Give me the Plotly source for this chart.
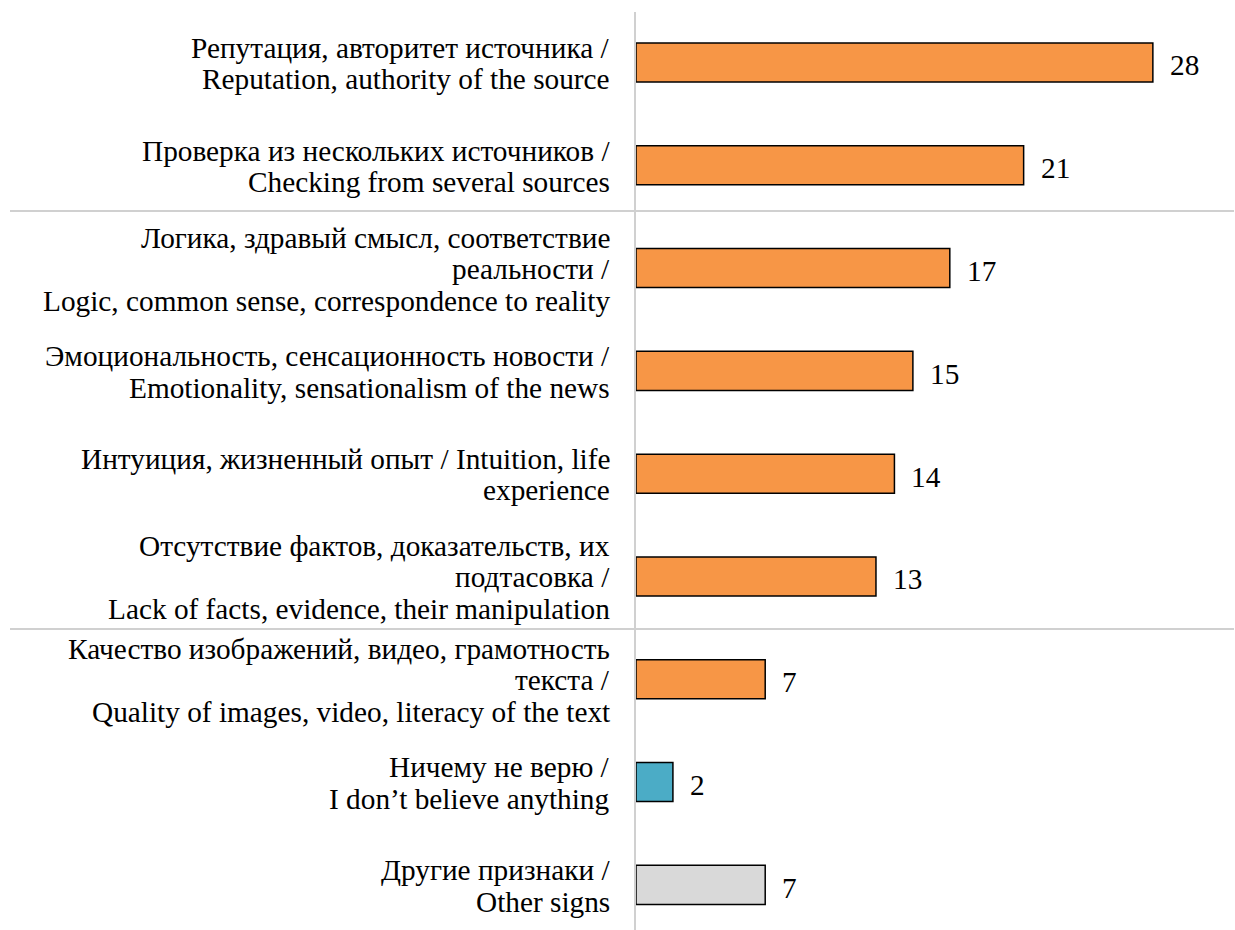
import plotly.graph_objects as go

categories = [
    "Репутация, авторитет источника /<br>Reputation, authority of the source",
    "Проверка из нескольких источников /<br>Checking from several sources",
    "Логика, здравый смысл, соответствие<br>реальности /<br>Logic, common sense, correspondence to reality",
    "Эмоциональность, сенсационность новости /<br>Emotionality, sensationalism of the news",
    "Интуиция, жизненный опыт / Intuition, life<br>experience",
    "Отсутствие фактов, доказательств, их<br>подтасовка /<br>Lack of facts, evidence, their manipulation",
    "Качество изображений, видео, грамотность<br>текста /<br>Quality of images, video, literacy of the text",
    "Ничему не верю /<br>I don’t believe anything",
    "Другие признаки /<br>Other signs",
]
values = [28, 21, 17, 15, 14, 13, 7, 2, 7]
colors = ["#F79646"] * 7 + ["#4BACC6", "#D9D9D9"]
separators_after = [1.445, 5.51]

FONT = "Times New Roman"
FS = 29.3
LINE = 31.5

pos = list(range(len(categories)))

fig = go.Figure()
fig.add_trace(go.Bar(
    x=values, y=pos, orientation="h",
    marker=dict(color=colors, line=dict(color="black", width=1.5)),
    width=0.38, hoverinfo="skip",
))

annotations = []
for i, (c, v) in enumerate(zip(categories, values)):
    lines = c.split("<br>")
    n = len(lines)
    for k, ln in enumerate(lines):
        annotations.append(dict(
            x=0, y=i, xref="paper", yref="y", text=ln, showarrow=False,
            xanchor="right", yanchor="middle", align="right", xshift=-24,
            yshift=-1 - (k - (n - 1) / 2) * LINE,
            font=dict(family=FONT, size=FS, color="black"),
        ))
    annotations.append(dict(
        x=v, y=i, xref="x", yref="y", text=str(v), showarrow=False,
        xanchor="left", yanchor="middle", xshift=15, yshift=-3,
        font=dict(family=FONT, size=FS, color="black"),
    ))

shapes = []
for s in separators_after:
    shapes.append(dict(
        type="line", xref="paper", yref="y",
        x0=(10 - 636) / 599, x1=(1234 - 636) / 599, y0=s, y1=s,
        line=dict(color="#D0D0D0", width=2), layer="below",
    ))

fig.update_layout(
    width=1235, height=930,
    margin=dict(l=636, r=0, t=12, b=0),
    plot_bgcolor="white", paper_bgcolor="white",
    showlegend=False,
    font=dict(family=FONT),
    annotations=annotations,
    shapes=shapes,
    xaxis=dict(range=[0, 32.45], visible=False, fixedrange=True),
    yaxis=dict(range=[8.439, -0.491], showticklabels=False, showgrid=False,
               zeroline=False, showline=True, linecolor="#D0D0D0", linewidth=2,
               ticks=""),
)

fig.write_html("out.html")
